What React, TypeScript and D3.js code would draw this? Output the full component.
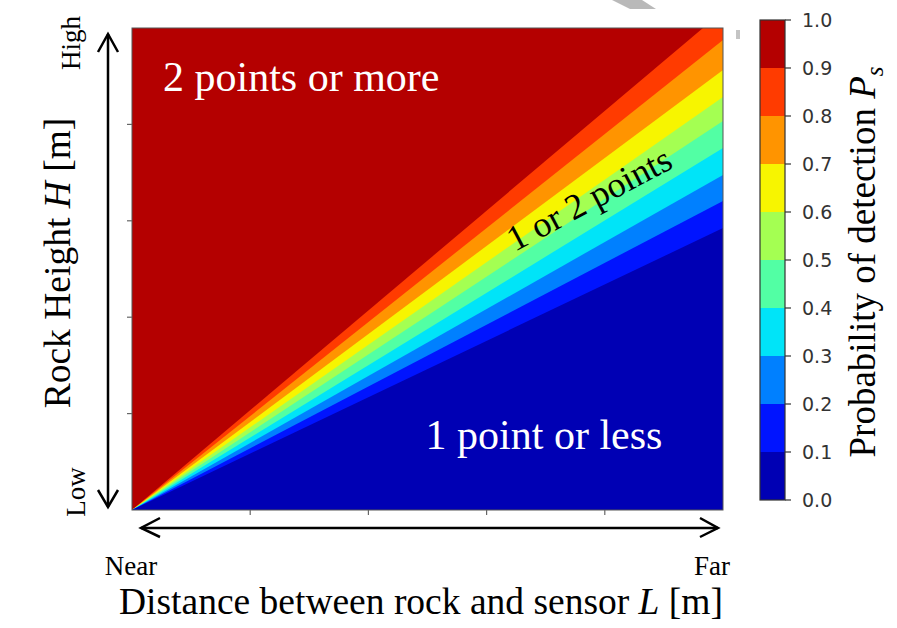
import React from 'react';
import * as d3 from 'd3';

// contour levels of the detection probability and their fill colours (jet, 10 steps)
const levels = [0, 0.1, 0.2, 0.3, 0.4, 0.5, 0.6, 0.7, 0.8, 0.9, 1.0];
const bandColors = ['#0000b4', '#0014ff', '#0080ff', '#00e4f8', '#52ffa4', '#a4ff52', '#f7f500', '#ff9400', '#ff3b00', '#b40000'];
// height (as fraction of H range) that each level 0.1 .. 0.9 reaches at the far end (L = 1)
const boundaryHeights = [0.585, 0.641, 0.695, 0.751, 0.807, 0.857, 0.913, 0.975, 1.035];
const axisTicks = [0, 0.2, 0.4, 0.6, 0.8, 1.0];
const colorbarTicks = ['0.0', '0.1', '0.2', '0.3', '0.4', '0.5', '0.6', '0.7', '0.8', '0.9', '1.0'];

const W = 897;
const H = 628;
const plot = { left: 132, right: 723, top: 28, bottom: 510 };
const cbar = { left: 760, right: 785, top: 20, bottom: 500 };
const serif = '"Liberation Serif", "Times New Roman", serif';

const App = () => {
  const x = d3.scaleLinear().domain([0, 1]).range([plot.left, plot.right]);
  const y = d3.scaleLinear().domain([0, 1]).range([plot.bottom, plot.top]);
  const cy = d3.scaleLinear().domain([0, 1]).range([cbar.bottom, cbar.top]);
  const line = d3.line<[number, number]>().x(d => x(d[0])).y(d => y(d[1]));

  // paint the top band first, then each lower band as the wedge under its upper boundary
  const wedges = boundaryHeights
    .map((h, i) => ({ h, color: bandColors[i] }))
    .reverse();

  return (
    <svg width={W} height={H} style={{ position: 'absolute', left: 0, top: 0, background: '#fff' }}>
      <defs>
        <clipPath id="plot-clip">
          <rect x={plot.left} y={plot.top} width={plot.right - plot.left} height={plot.bottom - plot.top} />
        </clipPath>
      </defs>

      {/* small artefacts of the original slide */}
      <polygon points="612,0 642,0 656,9 630,9" fill="#a8a8a8" opacity={0.8} />
      <rect x={736} y={30} width={4} height={9} fill="#c4c4c4" />

      <g clipPath="url(#plot-clip)">
        <rect x={plot.left} y={plot.top} width={plot.right - plot.left} height={plot.bottom - plot.top} fill={bandColors[bandColors.length - 1]} />
        {wedges.map((w, i) => (
          <path key={i} d={(line([[0, 0], [1, 0], [1, w.h], [0, 0]]) || '') + 'Z'} fill={w.color} />
        ))}
      </g>
      <rect x={plot.left} y={plot.top} width={plot.right - plot.left} height={plot.bottom - plot.top} fill="none" stroke="#555" strokeWidth={1} />

      {/* ticks without labels */}
      {axisTicks.slice(1, -1).map(t => (
        <line key={'yt' + t} x1={plot.left - 5} x2={plot.left} y1={y(t)} y2={y(t)} stroke="#666" strokeWidth={1.2} />
      ))}
      {axisTicks.slice(1, -1).map(t => (
        <line key={'xt' + t} x1={x(t)} x2={x(t)} y1={plot.bottom} y2={plot.bottom + 5} stroke="#666" strokeWidth={1.2} />
      ))}

      {/* region annotations */}
      <text x={163} y={91} fontFamily={serif} fontSize={42} fill="#fff">2 points or more</text>
      <text x={544} y={449} fontFamily={serif} fontSize={42} fill="#fff" textAnchor="middle">1 point or less</text>
      <text x={589} y={199} fontFamily={serif} fontSize={36} fill="#000" textAnchor="middle" dominantBaseline="central" transform="rotate(-28 589 199)">1 or 2 points</text>

      {/* arrows */}
      <g stroke="#000" strokeWidth={2.5} fill="none">
        <line x1={108} x2={108} y1={34} y2={507} />
        <polyline points="98,52 108,34 118,52" />
        <polyline points="98,490 108,507 118,490" />
        <line x1={141} x2={718} y1={528} y2={528} />
        <polyline points="160,518 141,528 160,537" />
        <polyline points="700,518 718,528 700,537" />
      </g>
      <text x={0} y={0} fontFamily={serif} fontSize={27} textAnchor="middle" transform="translate(80,43) rotate(-90)">High</text>
      <text x={0} y={0} fontFamily={serif} fontSize={27} textAnchor="middle" transform="translate(85,492) rotate(-90)">Low</text>
      <text x={131} y={575} fontFamily={serif} fontSize={27} textAnchor="middle">Near</text>
      <text x={712} y={575} fontFamily={serif} fontSize={27} textAnchor="middle">Far</text>

      {/* axis titles */}
      <text x={421} y={614} fontFamily={serif} fontSize={37.5} textAnchor="middle">
        Distance between rock and sensor <tspan fontStyle="italic">L</tspan> [m]
      </text>
      <text x={0} y={0} fontFamily={serif} fontSize={37.5} textAnchor="middle" transform="translate(70,263) rotate(-90)">
        Rock Height <tspan fontStyle="italic">H</tspan> [m]
      </text>

      {/* colour bar */}
      {bandColors.map((c, i) => (
        <rect key={'cb' + i} x={cbar.left} width={cbar.right - cbar.left} y={cy(levels[i + 1])} height={cy(levels[i]) - cy(levels[i + 1])} fill={c} />
      ))}
      <rect x={cbar.left} y={cbar.top} width={cbar.right - cbar.left} height={cbar.bottom - cbar.top} fill="none" stroke="#333" strokeWidth={1.2} />
      {levels.map((v, i) => (
        <g key={'cbt' + i}>
          <line x1={cbar.right} x2={cbar.right + 6} y1={cy(v)} y2={cy(v)} stroke="#333" strokeWidth={1.2} />
          <text x={cbar.right + 17} y={cy(v)} dy="0.36em" fontFamily='"DejaVu Sans", sans-serif' fontSize={19} fill="#333">{colorbarTicks[i]}</text>
        </g>
      ))}
      <text x={0} y={0} fontFamily={serif} fontSize={37} textAnchor="middle" transform="translate(875,262) rotate(-90)">
        Probability of detection <tspan fontStyle="italic">P</tspan><tspan fontStyle="italic" fontSize={25} dy={8}>s</tspan>
      </text>
    </svg>
  );
};

export default App;
